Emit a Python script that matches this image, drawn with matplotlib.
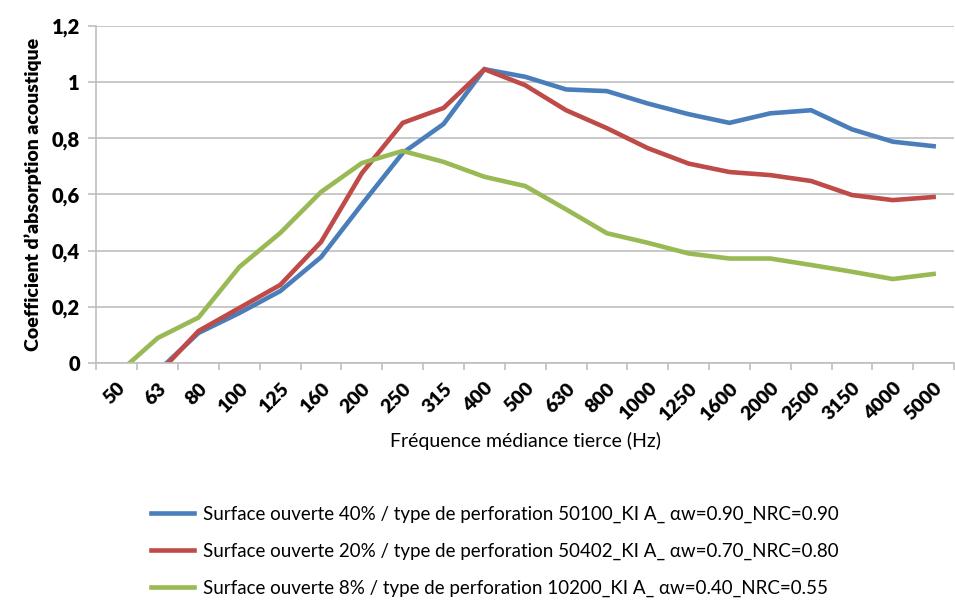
import matplotlib
matplotlib.use("Agg")
import matplotlib.pyplot as plt
import numpy as np

FREQS = ["50", "63", "80", "100", "125", "160", "200", "250", "315", "400", "500",
         "630", "800", "1000", "1250", "1600", "2000", "2500", "3150", "4000", "5000"]

# absorption coefficients (values below 0 are clipped by the axis)
OPEN_40 = [None, -0.03, 0.107, 0.178, 0.256, 0.377, 0.565, 0.748, 0.851, 1.046, 1.019,
           0.974, 0.968, 0.924, 0.886, 0.855, 0.889, 0.900, 0.832, 0.788, 0.772]
OPEN_20 = [None, -0.04, 0.114, 0.196, 0.278, 0.431, 0.676, 0.855, 0.908, 1.046, 0.989,
           0.900, 0.836, 0.765, 0.710, 0.680, 0.669, 0.648, 0.598, 0.580, 0.591]
OPEN_8 = [-0.04, 0.089, 0.162, 0.342, 0.463, 0.609, 0.712, 0.755, 0.716, 0.663, 0.630,
          0.547, 0.462, 0.428, 0.390, 0.372, 0.372, 0.349, 0.325, 0.299, 0.317]

LABELS = [
    "Surface ouverte 40% / type de perforation 50100_KI A_ \u03b1w=0.90_NRC=0.90",
    "Surface ouverte 20% / type de perforation 50402_KI A_ \u03b1w=0.70_NRC=0.80",
    "Surface ouverte 8% / type de perforation 10200_KI A_ \u03b1w=0.40_NRC=0.55",
]
COLORS = ["#4a7ebb", "#be4b48", "#98b954"]
GRID = "#bfbfbf"

plt.rcParams["font.family"] = ["Lato", "DejaVu Sans"]

fig = plt.figure(figsize=(9.55, 6.04), dpi=100)
ax = fig.add_axes([0.101, 0.399, 0.898, 0.558])

x = np.arange(len(FREQS))
for vals, col, lab in zip([OPEN_40, OPEN_20, OPEN_8], COLORS, LABELS):
    y = np.array([np.nan if v is None else v for v in vals], dtype=float)
    ax.plot(x, y, color=col, lw=3.3, label=lab, solid_joinstyle="miter")

ax.set_xlim(-0.5, len(FREQS) - 0.5)
ax.set_ylim(0, 1.2)
ax.set_yticks(np.arange(0, 1.21, 0.2))
ax.set_yticklabels(["0", "0,2", "0,4", "0,6", "0,8", "1", "1,2"],
                   fontsize=14.5, fontweight="heavy")
ax.grid(axis="y", color=GRID, lw=1.2)
ax.set_axisbelow(True)

ax.set_xticks(x)
ax.set_xticklabels(FREQS, rotation=45, ha="right", va="top", rotation_mode="anchor",
                   fontsize=14, fontweight="heavy")
ax.set_xticks(np.arange(-0.5, len(FREQS)), minor=True)
ax.tick_params(axis="x", which="major", length=0, pad=12)
ax.tick_params(axis="x", which="minor", length=5, color=GRID, width=1.2)
ax.tick_params(axis="y", length=6, color=GRID, width=1.2, pad=6)

for s in ("top", "right"):
    ax.spines[s].set_visible(False)
for s in ("left", "bottom"):
    ax.spines[s].set_color(GRID)
    ax.spines[s].set_linewidth(1.2)

ax.set_ylabel("Coefficient d\u2019absorption acoustique", fontsize=14, fontweight="heavy",
              labelpad=7)
ax.set_xlabel("Fr\u00e9quence m\u00e9diance tierce (Hz)", fontsize=14, labelpad=6)

fig.legend(loc="center", bbox_to_anchor=(0.518, 0.087), frameon=False, fontsize=13.5,
           handlelength=2.3, handletextpad=0.5, labelspacing=1.05)

fig.savefig("out.png", dpi=100)
